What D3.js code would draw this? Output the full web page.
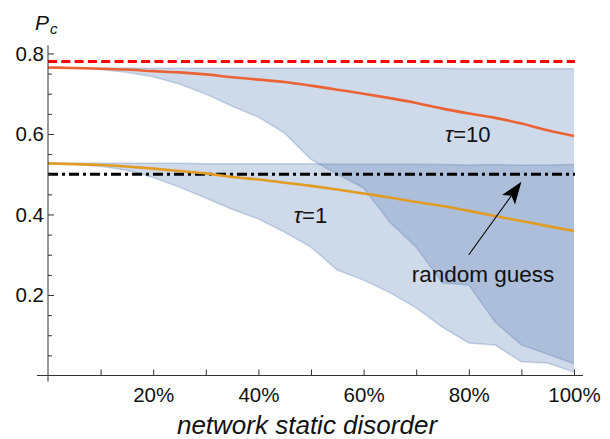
<!DOCTYPE html>
<html>
<head>
<meta charset="utf-8">
<script src="https://cdn.jsdelivr.net/npm/d3@7"></script>
<style>
  body { margin: 0; background: #fff; }
  svg { font-family: "Liberation Sans", Arial, sans-serif; }
</style>
</head>
<body>
<div id="chart"></div>
<script>
// network static disorder (%), sampled every 5%
const disorder = [0, 5, 10, 15, 20, 25, 30, 35, 40, 45, 50, 55, 60, 65, 70, 75, 80, 85, 90, 95, 100];

// tau = 10
const tau10Mean = [0.765, 0.764, 0.762, 0.760, 0.756, 0.753, 0.748, 0.741, 0.735, 0.729, 0.720,
                   0.710, 0.700, 0.689, 0.677, 0.663, 0.651, 0.640, 0.626, 0.609, 0.595];
const tau10High = [0.764, 0.764, 0.764, 0.764, 0.763, 0.763, 0.763, 0.763, 0.763, 0.763, 0.763,
                   0.763, 0.763, 0.763, 0.763, 0.763, 0.762, 0.762, 0.762, 0.762, 0.762];
const tau10Low  = [0.764, 0.763, 0.760, 0.753, 0.742, 0.724, 0.699, 0.669, 0.642, 0.602, 0.537,
                   0.500, 0.466, 0.381, 0.319, 0.230, 0.225, 0.133, 0.076, 0.053, 0.029];

// tau = 1
const tau1Mean = [0.527, 0.525, 0.523, 0.519, 0.514, 0.508, 0.502, 0.493, 0.487, 0.479, 0.471,
                  0.462, 0.452, 0.442, 0.431, 0.421, 0.409, 0.396, 0.384, 0.371, 0.359];
const tau1High = [0.527, 0.527, 0.527, 0.527, 0.527, 0.527, 0.526, 0.526, 0.526, 0.526, 0.526,
                  0.525, 0.525, 0.525, 0.525, 0.524, 0.523, 0.524, 0.522, 0.523, 0.524];
const tau1Low  = [0.527, 0.525, 0.520, 0.510, 0.492, 0.468, 0.441, 0.413, 0.389, 0.356, 0.319,
                  0.262, 0.237, 0.206, 0.168, 0.120, 0.081, 0.076, 0.034, 0.031, 0.009];

// reference levels
const optimalLevel = 0.78;
const randomGuess = 0.5;

// ticks
const xTicks = [10, 20, 30, 40, 50, 60, 70, 80, 90, 100];
const yMajor = [0.2, 0.4, 0.6, 0.8];
const yMinor = [0.05, 0.1, 0.15, 0.25, 0.3, 0.35, 0.45, 0.5, 0.55, 0.65, 0.7, 0.75];

const W = 610, H = 439;
const svg = d3.select("#chart").append("svg")
    .attr("width", W).attr("height", H);

const x = d3.scaleLinear().domain([0, 100]).range([48, 574]);
const y = d3.scaleLinear().domain([0, 0.82]).range([375.5, 45.4]);

const bandColor = "rgba(94,129,181,0.3)";
const edgeColor = "rgba(94,129,181,0.32)";

function band(low, high) {
    const pts = disorder.map((d, i) => ({d, lo: low[i], hi: high[i]}));
    svg.append("path").datum(pts)
        .attr("fill", bandColor)
        .attr("d", d3.area().x(p => x(p.d)).y0(p => y(p.lo)).y1(p => y(p.hi)));
    [low, high].forEach(arr => {
        svg.append("path").datum(disorder.map((d, i) => [d, arr[i]]))
            .attr("fill", "none")
            .attr("stroke", edgeColor)
            .attr("stroke-width", 1.5)
            .attr("d", d3.line().x(p => x(p[0])).y(p => y(p[1])));
    });
}
band(tau10Low, tau10High);
band(tau1Low, tau1High);

// reference lines
svg.append("line")
    .attr("x1", x(0)).attr("x2", x(100) + 1)
    .attr("y1", y(optimalLevel)).attr("y2", y(optimalLevel))
    .attr("stroke", "#ff0000").attr("stroke-width", 3)
    .attr("stroke-dasharray", "9,4.3");
svg.append("line")
    .attr("x1", x(0)).attr("x2", x(100) + 1)
    .attr("y1", y(randomGuess)).attr("y2", y(randomGuess))
    .attr("stroke", "#000").attr("stroke-width", 3)
    .attr("stroke-dasharray", "10,4,3,4");

// mean curves
const meanLine = d3.line().curve(d3.curveMonotoneX).x(p => x(p[0])).y(p => y(p[1]));
svg.append("path").datum(disorder.map((d, i) => [d, tau10Mean[i]]))
    .attr("fill", "none").attr("stroke", "#eb6235").attr("stroke-width", 2.6)
    .attr("d", meanLine);
svg.append("path").datum(disorder.map((d, i) => [d, tau1Mean[i]]))
    .attr("fill", "none").attr("stroke", "#e19c24").attr("stroke-width", 2.6)
    .attr("d", meanLine);

// axes
const xAxis = svg.append("g")
    .attr("transform", `translate(0,${y(0)})`)
    .call(d3.axisBottom(x).tickValues(xTicks).tickSize(-6).tickPadding(12)
        .tickFormat(d => d % 20 === 0 ? d + "%" : ""));
const yAxis = svg.append("g")
    .attr("transform", `translate(${x(0)},0)`)
    .call(d3.axisLeft(y).tickValues(yMajor).tickSize(-6).tickPadding(4)
        .tickFormat(d3.format(".1f")));
const yAxisMinor = svg.append("g")
    .attr("transform", `translate(${x(0)},0)`)
    .call(d3.axisLeft(y).tickValues(yMinor).tickSize(-4).tickFormat(""));

[xAxis, yAxis, yAxisMinor].forEach(g => {
    g.select(".domain").remove();
    g.selectAll(".tick line").attr("stroke", "#333");
    g.selectAll("text").attr("font-size", 20.5).attr("fill", "#111")
        .attr("font-family", "Liberation Sans, Arial, sans-serif");
});

svg.append("line")
    .attr("x1", x(0) - 11).attr("x2", x(100) + 9)
    .attr("y1", y(0)).attr("y2", y(0))
    .attr("stroke", "#333");
svg.append("line")
    .attr("x1", x(0)).attr("x2", x(0))
    .attr("y1", y(0) + 6).attr("y2", y(0.82))
    .attr("stroke", "#333");

// axis labels
svg.append("text")
    .attr("x", 307).attr("y", 434)
    .attr("text-anchor", "middle")
    .attr("font-size", 26).attr("font-style", "italic").attr("fill", "#111")
    .text("network static disorder");

const pc = svg.append("text").attr("x", 35).attr("y", 29.5)
    .attr("font-style", "italic").attr("fill", "#111");
pc.append("tspan").attr("font-size", 21).text("P");
pc.append("tspan").attr("font-size", 15).attr("dy", 4).attr("dx", 1).text("c");

// annotations
function tauLabel(xv, yv, txt) {
    const t = svg.append("text").attr("x", x(xv)).attr("y", y(yv))
        .attr("text-anchor", "middle").attr("font-size", 22).attr("fill", "#111");
    t.append("tspan").attr("font-style", "italic").text("τ");
    t.append("tspan").text("=" + txt);
}
tauLabel(79.8, 0.581, "10");
tauLabel(49.9, 0.38, "1");

svg.append("text")
    .attr("x", x(82.7)).attr("y", y(0.232))
    .attr("text-anchor", "middle").attr("font-size", 22.5).attr("fill", "#111")
    .text("random guess");

// arrow to the random guess line
const tail = [x(80), y(0.30)], tip = [x(90), y(0.481)];
const ang = Math.atan2(tip[1] - tail[1], tip[0] - tail[0]);
const hl = 22, hw = 8;
const ux = Math.cos(ang), uy = Math.sin(ang);
const bx = tip[0] - hl * ux, by = tip[1] - hl * uy;
const nx = bx + 5 * ux, ny = by + 5 * uy;
svg.append("line")
    .attr("x1", tail[0]).attr("y1", tail[1]).attr("x2", nx).attr("y2", ny)
    .attr("stroke", "#000").attr("stroke-width", 1.1);
svg.append("path")
    .attr("d", `M${tip[0]},${tip[1]} L${bx - hw * uy},${by + hw * ux} L${nx},${ny} L${bx + hw * uy},${by - hw * ux} Z`)
    .attr("fill", "#000");
</script>
</body>
</html>
